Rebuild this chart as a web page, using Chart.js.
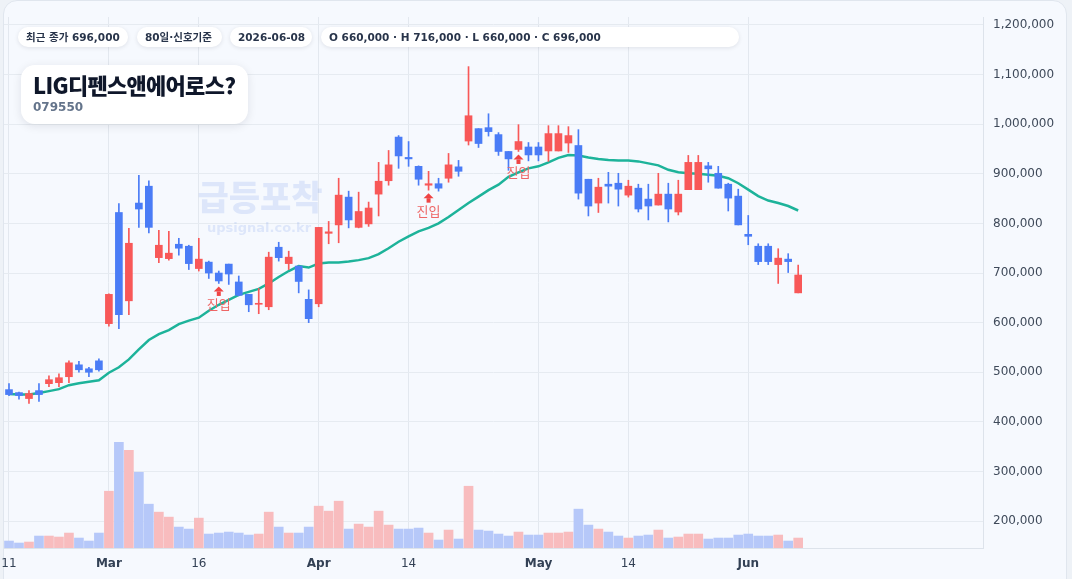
<!DOCTYPE html>
<html lang="ko">
<head>
<meta charset="utf-8">
<script src="https://cdn.jsdelivr.net/npm/chart.js@4.4.1/dist/chart.umd.min.js"></script>
<style>
  html, body { margin: 0; padding: 0; }
  body {
    width: 1072px; height: 579px; overflow: hidden; position: relative;
    background: #eef2f7;
    font-family: "DejaVu Sans", "Noto Sans CJK KR", sans-serif;
  }
  .card {
    position: absolute; left: 3px; top: 0; width: 1062px; height: 610px;
    background: #f6f9fe; border: 1px solid #e0e6ee; border-radius: 14px;
  }
  #chart { position: absolute; left: 0; top: 0; }
  .pill {
    position: absolute; top: 27px; height: 20px; line-height: 20px;
    padding: 0 8px; box-sizing: border-box;
    background: #fff; border-radius: 10px;
    box-shadow: 0 1px 4px rgba(15, 23, 42, 0.10);
    font-size: 10.5px; font-weight: bold; color: #28344a; white-space: nowrap;
  }
  .title-card {
    position: absolute; left: 21px; top: 65px; width: 227px; height: 59px;
    background: #fff; border-radius: 14px;
    box-shadow: 0 2px 10px rgba(15, 23, 42, 0.10);
  }
  .title {
    position: absolute; left: 12px; top: 3px;
    font-family: "Noto Sans CJK KR", sans-serif; font-weight: 900;
    font-size: 22px; letter-spacing: -0.7px; color: #0f172a; white-space: nowrap;
  }
  .code {
    position: absolute; left: 12px; top: 35px;
    font-size: 12px; font-weight: bold; color: #64748b;
  }
</style>
</head>
<body>
<div class="card"></div>
<canvas id="chart" width="1072" height="579"></canvas>

<div class="pill" style="left:18px; width:110px;">최근 종가 696,000</div>
<div class="pill" style="left:137px; width:85px;">80일·신호기준</div>
<div class="pill" style="left:230px; width:82px;">2026-06-08</div>
<div class="pill" style="left:321px; width:418px;">O 660,000 · H 716,000 · L 660,000 · C 696,000</div>

<div class="title-card">
  <div class="title">LIG디펜스앤에어로스?</div>
  <div class="code">079550</div>
</div>

<script>
// 80 거래일 (2026)
const dates = [
  '02-11','02-12','02-13','02-19','02-20','02-23','02-24','02-25','02-26','02-27',
  '03-03','03-04','03-05','03-06','03-09','03-10','03-11','03-12','03-13','03-16',
  '03-17','03-18','03-19','03-20','03-23','03-24','03-25','03-26','03-27','03-30',
  '03-31','04-01','04-02','04-03','04-06','04-07','04-08','04-09','04-10','04-13',
  '04-14','04-15','04-16','04-17','04-20','04-21','04-22','04-23','04-24','04-27',
  '04-28','04-29','04-30','05-01','05-04','05-05','05-06','05-07','05-08','05-11',
  '05-12','05-13','05-14','05-15','05-18','05-19','05-20','05-21','05-22','05-25',
  '05-26','05-27','05-28','05-29','06-01','06-02','06-03','06-04','06-05','06-08'
];

const opens = [
  465000,459000,447000,463000,477000,479000,491000,515000,507000,523000,
  598000,822000,644000,841000,875000,731000,729000,758000,754000,709000,
  722000,700000,718000,682000,657000,637000,632000,752000,719000,714000,
  647000,638000,780000,797000,853000,792000,799000,859000,886000,974000,
  933000,915000,877000,880000,891000,914000,966000,991000,993000,979000,
  945000,949000,954000,954000,946000,946000,962000,957000,889000,841000,
  879000,881000,857000,871000,849000,837000,859000,823000,868000,868000,
  916000,901000,879000,855000,778000,754000,754000,717000,728000,660000
];
const highs = [
  477000,460000,463000,477000,493000,497000,523000,522000,510000,527000,
  658000,840000,790000,897000,886000,786000,784000,770000,756000,770000,
  724000,704000,718000,694000,657000,669000,742000,762000,744000,714000,
  666000,792000,804000,891000,865000,863000,843000,923000,947000,977000,
  965000,916000,905000,891000,941000,927000,1116000,991000,1021000,983000,
  945000,999000,963000,963000,997000,997000,995000,989000,889000,891000,
  903000,901000,887000,879000,879000,901000,881000,887000,937000,937000,
  923000,915000,881000,869000,816000,759000,759000,749000,739000,716000
];
const lows = [
  453000,446000,437000,441000,471000,471000,479000,500000,491000,502000,
  593000,588000,616000,792000,781000,721000,726000,736000,707000,704000,
  689000,679000,677000,654000,622000,618000,626000,724000,707000,660000,
  600000,632000,759000,761000,791000,791000,794000,815000,877000,911000,
  915000,877000,867000,865000,883000,895000,958000,953000,976000,937000,
  907000,945000,926000,926000,925000,946000,943000,849000,815000,822000,
  841000,835000,853000,823000,807000,837000,803000,817000,868000,868000,
  883000,871000,825000,797000,757000,717000,717000,679000,701000,660000
];
const closes = [
  455000,453000,457000,455000,485000,489000,519000,505000,500000,505000,
  657000,616000,760000,829000,792000,756000,740000,750000,719000,728000,
  700000,684000,698000,655000,636000,639000,732000,731000,732000,683000,
  608000,792000,783000,857000,807000,824000,831000,885000,918000,936000,
  930000,889000,880000,871000,918000,905000,1017000,961000,985000,945000,
  930000,965000,938000,938000,981000,981000,977000,861000,835000,873000,
  875000,869000,875000,829000,835000,859000,829000,859000,923000,923000,
  910000,871000,851000,797000,774000,723000,723000,730000,723000,696000
];
// 이동평균선 (화면에서 읽은 값)
const ma = [
  456000,455000,455000,458000,462000,466000,474000,478000,481000,484000,
  499000,510000,526000,546000,565000,577000,585000,597000,604000,610000,
  624000,636000,646000,656000,662000,668000,679000,692000,704000,714000,
  711000,719000,721000,721000,723000,726000,730000,738000,750000,763000,
  774000,784000,791000,800000,813000,827000,841000,854000,867000,878000,
  894000,903000,911000,915000,923000,932000,938000,937000,933000,930000,
  928000,927000,927000,925000,921000,917000,908000,903000,901000,900000,
  898000,896000,891000,881000,868000,855000,846000,841000,835000,826000
];
const volumes = [
  70000,50000,60000,120000,120000,110000,150000,100000,70000,150000,
  570000,1060000,980000,760000,440000,360000,310000,210000,190000,300000,
  140000,150000,160000,150000,130000,140000,360000,210000,150000,150000,
  210000,420000,370000,470000,190000,240000,210000,370000,230000,190000,
  190000,200000,150000,80000,180000,90000,620000,180000,170000,140000,
  120000,160000,130000,130000,150000,150000,160000,390000,230000,190000,
  160000,120000,100000,120000,130000,180000,100000,110000,140000,140000,
  90000,100000,100000,130000,140000,120000,120000,130000,70000,100000
];

const entryDates = ['03-18', '04-16', '04-29'];   // 진입 신호
const xTickText = {
  '02-11': '11', '03-03': 'Mar', '03-16': '16', '04-01': 'Apr',
  '04-14': '14', '05-01': 'May', '05-14': '14', '06-01': 'Jun'
};
const monthTicks = ['Mar', 'Apr', 'May', 'Jun'];
const yTicks = [200000,300000,400000,500000,600000,700000,800000,900000,1000000,1100000,1200000];

const UP = '#f85858', DOWN = '#4a7cf6';
const UP_VOL = '#f8bcbe', DOWN_VOL = '#b6c8f9';
const RIGHT_EMPTY = 18; // 오른쪽 여백 (빈 슬롯)

const labels = dates.concat(new Array(RIGHT_EMPTY).fill(''));
const isUp = opens.map((o, i) => closes[i] >= o);

const watermark = {
  id: 'watermark',
  beforeDatasetsDraw(chart) {
    const ctx = chart.ctx;
    ctx.save();
    ctx.textAlign = 'center';
    ctx.textBaseline = 'middle';
    ctx.fillStyle = 'rgba(70, 120, 230, 0.14)';
    ctx.font = '900 34px "Noto Sans CJK KR"';
    ctx.fillText('급등포착', 260, 197);
    ctx.font = 'bold 13px "DejaVu Sans"';
    ctx.fillText('upsignal.co.kr', 259, 229);
    ctx.restore();
  }
};

const entryMarks = {
  id: 'entryMarks',
  afterDatasetsDraw(chart) {
    const ctx = chart.ctx;
    const xs = chart.scales.x, ys = chart.scales.y;
    ctx.save();
    entryDates.forEach(d => {
      const i = dates.indexOf(d);
      const x = xs.getPixelForValue(i);
      const y0 = ys.getPixelForValue(lows[i]) + 3;
      ctx.fillStyle = '#ef4444';
      ctx.beginPath();
      ctx.moveTo(x, y0);
      ctx.lineTo(x + 5, y0 + 5);
      ctx.lineTo(x - 5, y0 + 5);
      ctx.closePath();
      ctx.fill();
      ctx.fillRect(x - 2, y0 + 5, 4, 4.5);
      ctx.fillStyle = '#ee6666';
      ctx.font = '13px "Noto Sans CJK KR"';
      ctx.textAlign = 'center';
      ctx.textBaseline = 'middle';
      ctx.fillText('진입', x, y0 + 18);
    });
    ctx.restore();
  }
};

new Chart(document.getElementById('chart'), {
  type: 'bar',
  data: {
    labels: labels,
    datasets: [
      {
        label: '거래량',
        data: volumes,
        yAxisID: 'yv',
        backgroundColor: isUp.map(u => u ? UP_VOL : DOWN_VOL),
        barThickness: 9,
        grouped: false,
        order: 4
      },
      {
        type: 'line',
        label: 'MA',
        data: ma,
        borderColor: '#1db39a',
        borderWidth: 2.5,
        pointRadius: 0,
        tension: 0,
        order: 3
      },
      {
        label: 'wick',
        data: lows.map((l, i) => [l, highs[i]]),
        backgroundColor: isUp.map(u => u ? UP : DOWN),
        barThickness: 1,
        grouped: false,
        order: 2
      },
      {
        label: 'body',
        data: opens.map((o, i) => [o, closes[i]]),
        backgroundColor: isUp.map(u => u ? UP : DOWN),
        barThickness: 7,
        minBarLength: 1,
        grouped: false,
        order: 1
      }
    ]
  },
  options: {
    responsive: false,
    animation: false,
    layout: { padding: { left: 4, top: 17, right: 0, bottom: 0 } },
    plugins: {
      legend: { display: false },
      tooltip: { enabled: false }
    },
    scales: {
      x: {
        type: 'category',
        offset: true,
        grid: { offset: false, color: '#e3e8ef', tickLength: 9, tickColor: 'rgba(0,0,0,0)' },
        border: { color: '#dde3eb' },
        afterBuildTicks: s => {
          s.ticks = s.ticks.filter(t => xTickText[labels[t.value]] !== undefined);
        },
        afterFit: s => { s.height = 31; },
        ticks: {
          autoSkip: false,
          maxRotation: 0,
          padding: 0,
          color: '#334155',
          callback: v => xTickText[labels[v]],
          font: c => ({
            family: 'DejaVu Sans',
            size: 12,
            weight: c.tick && monthTicks.includes(c.tick.label) ? 'bold' : 'normal'
          })
        }
      },
      y: {
        position: 'right',
        min: 145800,
        max: 1216000,
        grid: { color: '#e6ebf1', tickLength: 10, tickColor: 'rgba(0,0,0,0)' },
        border: { color: '#dde3eb' },
        afterBuildTicks: s => { s.ticks = yTicks.map(v => ({ value: v })); },
        afterFit: s => { s.width = 89; },
        ticks: {
          padding: 0,
          color: '#3f4a5a',
          font: { family: 'DejaVu Sans', size: 12 },
          callback: v => v.toLocaleString('en-US')
        }
      },
      yv: {
        display: false,
        min: 0,
        max: 5330000
      }
    }
  },
  plugins: [watermark, entryMarks]
});
</script>
</body>
</html>
